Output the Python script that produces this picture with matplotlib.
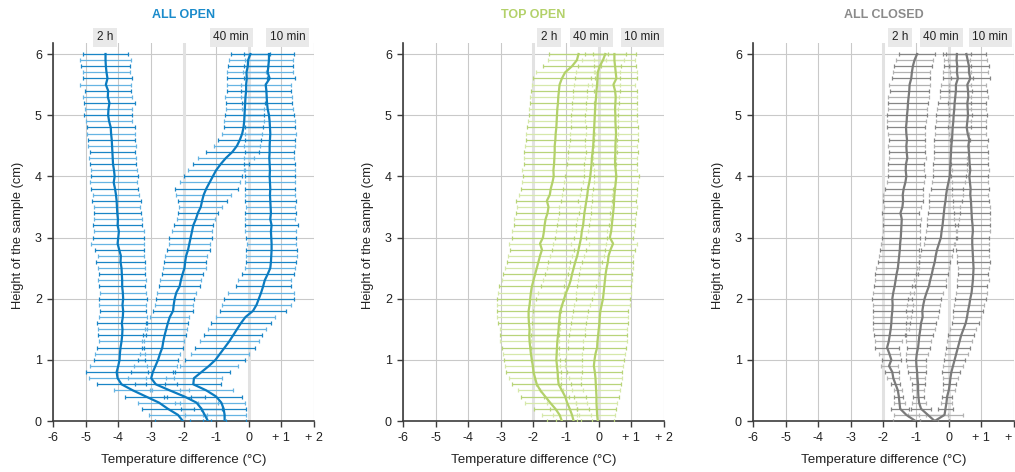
import matplotlib
matplotlib.use("Agg")
import matplotlib.pyplot as plt

plt.rcParams["font.family"] = ["Liberation Sans", "DejaVu Sans"]

# heights of the sample (cm), bottom to top
heights = [i / 10 for i in range(61)]

series_names = ["2 h", "40 min", "10 min"]
panel_titles = ["ALL OPEN", "TOP OPEN", "ALL CLOSED"]

# ---------- ALL OPEN ----------
open_2h = [-2.02, -2.17, -2.48, -2.75, -3.15, -3.55, -3.90, -4.02, -4.05, -4.00,
           -3.96, -3.95, -3.93, -3.90, -3.88, -3.87, -3.89, -3.86, -3.85, -3.87,
           -3.85, -3.86, -3.88, -3.88, -3.89, -3.90, -3.93, -3.92, -3.97, -4.02,
           -4.00, -3.98, -4.02, -4.01, -4.03, -4.04, -4.05, -4.07, -4.10, -4.14,
           -4.11, -4.13, -4.16, -4.17, -4.18, -4.19, -4.20, -4.22, -4.23, -4.28,
           -4.31, -4.30, -4.27, -4.32, -4.31, -4.38, -4.33, -4.36, -4.38, -4.39,
           -4.39]
open_2h_err = [0.86, 0.90, 0.80, 0.65, 0.63, 0.58, 0.74, 0.88, 0.95, 0.87,
               0.77, 0.76, 0.72, 0.70, 0.73, 0.76, 0.75, 0.73, 0.70, 0.72,
               0.74, 0.71, 0.70, 0.73, 0.70, 0.72, 0.74, 0.71, 0.75, 0.80,
               0.78, 0.76, 0.74, 0.73, 0.72, 0.71, 0.74, 0.70, 0.72, 0.73,
               0.72, 0.71, 0.70, 0.72, 0.70, 0.73, 0.72, 0.74, 0.73, 0.70,
               0.74, 0.72, 0.78, 0.75, 0.70, 0.78, 0.74, 0.72, 0.75, 0.78,
               0.69]
open_40 = [-1.25, -1.35, -1.45, -1.60, -1.97, -2.42, -2.85, -2.99, -2.94, -2.86,
           -2.78, -2.72, -2.65, -2.62, -2.58, -2.53, -2.48, -2.42, -2.32, -2.30,
           -2.27, -2.22, -2.12, -2.08, -2.03, -1.97, -1.95, -1.92, -1.86, -1.82,
           -1.78, -1.74, -1.70, -1.62, -1.56, -1.47, -1.43, -1.38, -1.30, -1.20,
           -1.10, -1.00, -0.86, -0.70, -0.50, -0.36, -0.27, -0.20, -0.16, -0.14,
           -0.13, -0.12, -0.11, -0.10, -0.08, -0.08, -0.06, -0.07, -0.03, -0.02,
           0.05]
open_40_err = [0.55, 0.60, 0.62, 0.65, 0.62, 0.60, 0.65, 0.70, 0.68, 0.66,
               0.62, 0.60, 0.62, 0.64, 0.65, 0.65, 0.63, 0.60, 0.62, 0.58,
               0.58, 0.60, 0.62, 0.63, 0.64, 0.66, 0.64, 0.65, 0.66, 0.63,
               0.65, 0.62, 0.60, 0.59, 0.62, 0.66, 0.75, 0.85, 0.96, 0.92,
               0.89, 0.85, 0.86, 0.87, 0.80, 0.72, 0.66, 0.62, 0.60, 0.62,
               0.60, 0.58, 0.60, 0.62, 0.60, 0.58, 0.62, 0.60, 0.62, 0.60,
               0.60]
open_10 = [-0.74, -0.74, -0.77, -0.84, -1.00, -1.30, -1.70, -1.68, -1.45, -1.22,
           -1.02, -0.88, -0.74, -0.60, -0.48, -0.36, -0.24, -0.10, 0.13, 0.24,
           0.31, 0.38, 0.44, 0.49, 0.58, 0.66, 0.68, 0.69, 0.70, 0.70,
           0.69, 0.68, 0.70, 0.66, 0.68, 0.67, 0.66, 0.65, 0.66, 0.65,
           0.64, 0.65, 0.64, 0.63, 0.64, 0.64, 0.65, 0.66, 0.65, 0.64,
           0.62, 0.58, 0.56, 0.55, 0.54, 0.52, 0.64, 0.58, 0.60, 0.62,
           0.62]
open_10_err = [0.66, 0.66, 0.70, 0.72, 0.78, 0.82, 0.86, 0.85, 0.87, 0.90,
               0.92, 0.90, 0.92, 0.90, 0.88, 0.90, 0.92, 0.90, 1.00, 1.05,
               1.08, 1.02, 0.84, 0.82, 0.80, 0.77, 0.76, 0.78, 0.77, 0.76,
               0.77, 0.78, 0.80, 0.76, 0.78, 0.76, 0.78, 0.77, 0.76, 0.77,
               0.77, 0.76, 0.78, 0.77, 0.76, 0.78, 0.77, 0.78, 0.77, 0.78,
               0.77, 0.78, 0.76, 0.78, 0.77, 0.76, 0.78, 0.77, 0.76, 0.75,
               0.78]

# ---------- TOP OPEN ----------
top_2h = [-1.13, -1.20, -1.33, -1.49, -1.64, -1.79, -1.90, -1.95, -2.00, -2.02,
          -2.05, -2.08, -2.10, -2.12, -2.13, -2.12, -2.14, -2.15, -2.15, -2.12,
          -2.10, -2.08, -2.05, -2.00, -1.95, -1.90, -1.85, -1.80, -1.74, -1.80,
          -1.71, -1.68, -1.66, -1.63, -1.57, -1.54, -1.59, -1.50, -1.47, -1.42,
          -1.38, -1.39, -1.37, -1.36, -1.35, -1.35, -1.33, -1.32, -1.30, -1.29,
          -1.28, -1.27, -1.25, -1.24, -1.22, -1.20, -1.13, -1.03, -0.82, -0.67,
          -0.62]
top_2h_err = [0.45, 0.54, 0.65, 0.78, 0.74, 0.70, 0.75, 0.80, 0.84, 0.84,
              0.85, 0.86, 0.88, 0.90, 0.91, 0.92, 0.94, 0.96, 0.98, 1.00,
              1.03, 1.02, 1.00, 0.98, 1.00, 0.98, 0.96, 0.97, 0.98, 0.95,
              0.96, 0.98, 0.95, 0.96, 0.97, 0.98, 0.95, 0.93, 0.92, 0.93,
              0.94, 0.95, 0.93, 0.94, 0.95, 0.92, 0.90, 0.92, 0.90, 0.88,
              0.87, 0.88, 0.86, 0.88, 0.87, 0.86, 0.88, 0.90, 0.88, 0.90,
              0.90]
top_40 = [-0.77, -0.82, -0.89, -0.97, -1.03, -1.13, -1.23, -1.25, -1.26, -1.28,
          -1.30, -1.29, -1.28, -1.27, -1.25, -1.23, -1.22, -1.20, -1.18, -1.12,
          -1.06, -1.00, -0.92, -0.86, -0.82, -0.77, -0.72, -0.66, -0.62, -0.58,
          -0.54, -0.52, -0.48, -0.46, -0.44, -0.41, -0.38, -0.35, -0.33, -0.29,
          -0.26, -0.24, -0.22, -0.21, -0.19, -0.17, -0.16, -0.15, -0.14, -0.13,
          -0.12, -0.11, -0.10, -0.08, -0.07, -0.05, -0.04, -0.03, 0.03, 0.13,
          0.20]
top_40_err = [0.55, 0.58, 0.60, 0.62, 0.65, 0.66, 0.70, 0.72, 0.74, 0.76,
              0.78, 0.78, 0.80, 0.80, 0.82, 0.82, 0.84, 0.85, 0.84, 0.85,
              0.86, 0.85, 0.84, 0.85, 0.84, 0.82, 0.83, 0.82, 0.80, 0.81,
              0.80, 0.78, 0.80, 0.79, 0.78, 0.80, 0.78, 0.77, 0.76, 0.78,
              0.76, 0.75, 0.76, 0.74, 0.75, 0.74, 0.73, 0.74, 0.72, 0.73,
              0.72, 0.71, 0.72, 0.70, 0.71, 0.70, 0.70, 0.68, 0.66, 0.64,
              0.62]
top_10 = [-0.03, -0.05, -0.06, -0.07, -0.07, -0.08, -0.09, -0.10, -0.12, -0.15,
          -0.13, -0.10, -0.05, -0.04, -0.02, 0.00, 0.02, 0.03, 0.05, 0.09,
          0.13, 0.15, 0.17, 0.19, 0.21, 0.24, 0.28, 0.30, 0.36, 0.44,
          0.34, 0.38, 0.40, 0.42, 0.44, 0.46, 0.47, 0.48, 0.50, 0.52,
          0.54, 0.52, 0.50, 0.50, 0.51, 0.51, 0.52, 0.53, 0.52, 0.51,
          0.51, 0.50, 0.51, 0.52, 0.50, 0.45, 0.54, 0.52, 0.50, 0.48,
          0.48]
top_10_err = [0.50, 0.56, 0.60, 0.64, 0.68, 0.73, 0.76, 0.80, 0.84, 0.88,
              0.90, 0.90, 0.88, 0.90, 0.88, 0.87, 0.88, 0.86, 0.85, 0.86,
              0.84, 0.85, 0.83, 0.84, 0.82, 0.80, 0.78, 0.76, 0.75, 0.74,
              0.72, 0.70, 0.71, 0.70, 0.69, 0.70, 0.68, 0.69, 0.68, 0.67,
              0.68, 0.66, 0.68, 0.67, 0.68, 0.66, 0.67, 0.66, 0.67, 0.66,
              0.65, 0.66, 0.65, 0.64, 0.66, 0.65, 0.64, 0.66, 0.65, 0.64,
              0.65]

# ---------- ALL CLOSED ----------
closed_2h = [-1.02, -1.30, -1.49, -1.51, -1.53, -1.56, -1.63, -1.70, -1.73, -1.83,
             -1.76, -1.82, -1.89, -1.84, -1.81, -1.78, -1.76, -1.75, -1.73, -1.72,
             -1.73, -1.70, -1.66, -1.63, -1.60, -1.56, -1.54, -1.52, -1.50, -1.49,
             -1.47, -1.46, -1.45, -1.44, -1.48, -1.42, -1.40, -1.41, -1.38, -1.33,
             -1.30, -1.32, -1.31, -1.27, -1.29, -1.30, -1.28, -1.30, -1.31, -1.29,
             -1.28, -1.26, -1.25, -1.23, -1.21, -1.20, -1.15, -1.13, -1.10, -1.05,
             -0.97]
closed_2h_err = [0.70, 0.38, 0.28, 0.16, 0.14, 0.12, 0.15, 0.18, 0.22, 0.26,
                 0.30, 0.33, 0.36, 0.42, 0.48, 0.55, 0.57, 0.58, 0.60, 0.61,
                 0.61, 0.62, 0.63, 0.64, 0.65, 0.66, 0.64, 0.62, 0.60, 0.60,
                 0.58, 0.57, 0.56, 0.58, 0.56, 0.57, 0.60, 0.62, 0.58, 0.56,
                 0.57, 0.55, 0.56, 0.57, 0.55, 0.56, 0.55, 0.57, 0.58, 0.60,
                 0.62, 0.60, 0.61, 0.62, 0.60, 0.62, 0.58, 0.57, 0.58, 0.56,
                 0.56]
closed_40 = [-0.43, -0.64, -0.85, -0.91, -0.93, -0.94, -0.94, -0.96, -0.97, -0.99,
             -1.00, -0.98, -0.94, -0.92, -0.90, -0.87, -0.85, -0.80, -0.81, -0.78,
             -0.74, -0.68, -0.61, -0.57, -0.52, -0.48, -0.43, -0.40, -0.36, -0.30,
             -0.24, -0.22, -0.19, -0.17, -0.15, -0.13, -0.10, -0.08, -0.05, -0.01,
             0.03, 0.04, 0.05, 0.06, 0.07, 0.08, 0.10, 0.11, 0.12, 0.14,
             0.15, 0.17, 0.18, 0.20, 0.22, 0.22, 0.28, 0.25, 0.26, 0.24,
             0.25]
closed_40_err = [0.45, 0.62, 0.32, 0.22, 0.16, 0.18, 0.20, 0.24, 0.28, 0.30,
                 0.31, 0.33, 0.35, 0.38, 0.42, 0.45, 0.47, 0.48, 0.50, 0.50,
                 0.51, 0.50, 0.52, 0.50, 0.49, 0.50, 0.48, 0.49, 0.48, 0.47,
                 0.48, 0.47, 0.48, 0.49, 0.50, 0.48, 0.50, 0.52, 0.50, 0.51,
                 0.50, 0.51, 0.52, 0.50, 0.52, 0.53, 0.54, 0.52, 0.55, 0.54,
                 0.55, 0.52, 0.50, 0.48, 0.50, 0.46, 0.45, 0.44, 0.42, 0.40,
                 0.42]
closed_10 = [-0.43, -0.13, -0.10, -0.07, -0.05, 0.00, 0.03, 0.05, 0.08, 0.13,
             0.18, 0.23, 0.28, 0.33, 0.38, 0.45, 0.52, 0.56, 0.59, 0.63,
             0.66, 0.70, 0.72, 0.74, 0.75, 0.76, 0.75, 0.74, 0.73, 0.72,
             0.72, 0.74, 0.73, 0.71, 0.70, 0.69, 0.68, 0.66, 0.67, 0.65,
             0.63, 0.66, 0.64, 0.63, 0.62, 0.60, 0.63, 0.58, 0.55, 0.57,
             0.59, 0.58, 0.57, 0.60, 0.59, 0.57, 0.66, 0.62, 0.62, 0.58,
             0.54]
closed_10_err = [0.45, 0.58, 0.22, 0.16, 0.15, 0.18, 0.20, 0.24, 0.28, 0.30,
                 0.32, 0.35, 0.36, 0.38, 0.40, 0.40, 0.42, 0.44, 0.45, 0.46,
                 0.48, 0.47, 0.46, 0.48, 0.46, 0.48, 0.50, 0.49, 0.50, 0.52,
                 0.50, 0.52, 0.53, 0.54, 0.55, 0.56, 0.54, 0.55, 0.56, 0.55,
                 0.56, 0.57, 0.56, 0.58, 0.57, 0.56, 0.58, 0.57, 0.58, 0.57,
                 0.58, 0.57, 0.58, 0.60, 0.58, 0.57, 0.60, 0.58, 0.62, 0.60,
                 0.61]

panels = [
    [(open_2h, open_2h_err), (open_40, open_40_err), (open_10, open_10_err)],
    [(top_2h, top_2h_err), (top_40, top_40_err), (top_10, top_10_err)],
    [(closed_2h, closed_2h_err), (closed_40, closed_40_err), (closed_10, closed_10_err)],
]

# style per panel: title colour, line colour, dark bar, light bar
styles = [
    ("#1a8bcb", "#0b7bc0", "#1a85c6", "#66b4e3"),
    ("#b3d16a", "#b3d16a", "#b8d47a", "#d6e8aa"),
    ("#8a8a8a", "#7a7a7a", "#868686", "#b2b2b2"),
]
# x position (data units) of the little grey name boxes above each panel
box_x = [(-4.4, -0.54, 1.2), (-1.52, -0.23, 1.33), (-1.49, -0.23, 1.27)]

W, H = 1015, 472
fig = plt.figure(figsize=(W / 100, H / 100), dpi=100)
lefts = [53, 403, 753]

for p, left in enumerate(lefts):
    ax = fig.add_axes([left / W, 51 / H, 261 / W, 378 / H])
    title_c, line_c, dark_c, light_c = styles[p]

    for mean, err in panels[p]:
        ax.errorbar(mean[0::2], heights[0::2], xerr=err[0::2], fmt="none",
                    ecolor=dark_c, elinewidth=0.9, capsize=1.7, capthick=0.9, zorder=3)
        ax.errorbar(mean[1::2], heights[1::2], xerr=err[1::2], fmt="none",
                    ecolor=light_c, elinewidth=0.9, capsize=1.7, capthick=0.9, zorder=3)
    for mean, err in panels[p]:
        ax.plot(mean, heights, color=line_c, lw=1.6, zorder=4)

    ax.set_xlim(-6, 2)
    ax.set_ylim(0, 6.18)
    ax.set_xticks(range(-6, 3))
    ax.set_xticklabels(["-6", "-5", "-4", "-3", "-2", "-1", "0", "+ 1", "+ 2"])
    ax.set_yticks(range(0, 7))
    ax.grid(color="#c9c9c9", lw=0.8, zorder=0)
    for xv in (-2, 0):
        ax.axvline(xv, color="#e2e2e2", lw=2.2, zorder=1)
    ax.set_axisbelow(True)
    for s in ("top", "right"):
        ax.spines[s].set_visible(False)
    for s in ("left", "bottom"):
        ax.spines[s].set_color("#3c3c3c")
        ax.spines[s].set_linewidth(1.2)
    ax.tick_params(direction="out", length=4, width=1, color="#3c3c3c",
                   labelsize=9, labelcolor="#222222", pad=4)

    ax.set_ylabel("Height of the sample (cm)", fontsize=9.3, color="#222222")
    ax.yaxis.set_label_coords(-0.112, 0.49)
    ax.set_xlabel("Temperature difference (°C)", fontsize=9.6, color="#222222")
    ax.xaxis.set_label_coords(0.5, -0.088)

    for name, bx in zip(series_names, box_x[p]):
        ax.text(bx, 6.27, name, ha="center", va="center", fontsize=8.5,
                color="#222222", clip_on=False,
                bbox=dict(boxstyle="square,pad=0.32", fc="#e9e9e9", ec="none"))

    fig.text((left + 130.5) / W, 1 - 15 / H, panel_titles[p], ha="center",
             va="center", fontsize=9, fontweight="bold", color=title_c)

fig.savefig("out.png", dpi=100)
plt.close(fig)
